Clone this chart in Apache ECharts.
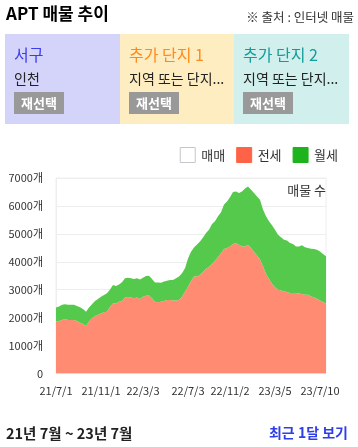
<!DOCTYPE html>
<html>
<head>
<meta charset="utf-8">
<script src="https://cdn.jsdelivr.net/npm/echarts@6/dist/echarts.min.js"></script>
<style>
html,body{margin:0;padding:0;background:#fff;}
#c{width:358px;height:447px;}
</style>
</head>
<body>
<div id="c"></div>
<script>
// Dates of each sample (YY/M/D)
const categories = [
 '21/7/1','21/7/9','21/7/17','21/7/26','21/8/3','21/8/11','21/8/19','21/8/28','21/9/5','21/9/13','21/9/21','21/9/30','21/10/8','21/10/16','21/10/24',
 '21/11/1','21/11/10','21/11/18','21/11/27','21/12/6','21/12/14','21/12/23','22/1/1','22/1/9','22/1/18','22/1/27','22/2/4','22/2/13','22/2/22',
 '22/3/3','22/3/11','22/3/19','22/3/27','22/4/4','22/4/12','22/4/20','22/4/28','22/5/6','22/5/14','22/5/22','22/5/30','22/6/7','22/6/15','22/6/24',
 '22/7/3','22/7/12','22/7/20','22/7/29','22/8/7','22/8/15','22/8/24','22/9/2','22/9/10','22/9/19','22/9/28','22/10/7','22/10/15','22/10/24',
 '22/11/2','22/11/10','22/11/18','22/11/26','22/12/4','22/12/13','22/12/21','22/12/29','23/1/6','23/1/14','23/1/22','23/1/31','23/2/8','23/2/16','23/2/24',
 '23/3/5','23/3/13','23/3/22','23/3/30','23/4/8','23/4/16','23/4/25','23/5/3','23/5/12','23/5/20','23/5/29','23/6/6','23/6/15','23/6/23','23/7/2',
 '23/7/10','23/7/18','23/7/26'
];
const tickLabels = ['21/7/1','21/11/1','22/3/3','22/7/3','22/11/2','23/3/5','23/7/10'];
const yTicks = [0,1000,2000,3000,4000,5000,6000,7000];
// 전세 (jeonse) listing counts
const jeonse = [
 1860,1880,1920,1950,1920,1920,1920,1880,1820,1770,1700,1860,1980,2060,2100,2150,2190,2210,2390,2510,
 2510,2570,2600,2720,2740,2720,2690,2720,2670,2750,2780,2790,2690,2570,2550,2570,2600,2630,2630,2610,
 2610,2630,2750,2930,3110,3310,3470,3470,3540,3630,3750,3810,3920,4040,4170,4310,4460,4490,4550,4640,
 4660,4610,4550,4550,4610,4490,4350,4230,4080,3840,3560,3380,3210,3090,3000,2970,2940,2920,2880,2880,
 2880,2860,2850,2820,2820,2760,2730,2680,2610,2560,2510
];
// 월세 (monthly rent) listing counts
const wolse = [
 500,520,540,530,540,540,540,540,550,540,510,500,500,540,570,600,620,660,620,660,
 620,620,670,690,690,690,690,690,700,680,710,710,690,690,710,680,690,690,720,740,
 800,840,840,840,1010,1050,1040,1150,1190,1240,1280,1340,1430,1410,1460,1460,1590,1670,1760,1860,
 1860,1850,1970,2070,2090,2090,2110,2110,2140,2030,2070,2070,2100,2060,1970,1910,1850,1840,1790,1760,
 1670,1690,1740,1700,1670,1710,1730,1750,1760,1720,1690
];
// 매매 (sale) – no data shown
const maemae = [];

const FONT = '"Noto Sans CJK KR", "Noto Sans", sans-serif';
const chart = echarts.init(document.getElementById('c'), null, {renderer:'canvas'});

function panel(x, w, color, title, titleColor, sub) {
  return [
    {type:'rect', shape:{x:x, y:34, width:w, height:90}, style:{fill:color}, z:1},
    {type:'text', x:x+9, y:55, style:{text:title, fill:titleColor, font:'16px '+FONT, textVerticalAlign:'middle'}, z:2},
    {type:'text', x:x+9, y:79, style:{text:sub, fill:'#222', font:'14px '+FONT, textVerticalAlign:'middle'}, z:2},
    {type:'rect', shape:{x:x+9, y:92, width:50, height:22}, style:{fill:'#999'}, z:2},
    {type:'text', x:x+34, y:103, style:{text:'재선택', fill:'#fff', font:'bold 13px '+FONT, textAlign:'center', textVerticalAlign:'middle'}, z:3}
  ];
}

const option = {
  animation:false,
  textStyle:{fontFamily:FONT},
  graphic:[
    {type:'text', x:6, y:14, style:{text:'APT 매물 추이', fill:'#000', font:'bold 17px '+FONT, textVerticalAlign:'middle'}},
    {type:'text', x:354, y:17, style:{text:'※ 출처 : 인터넷 매물', fill:'#333', font:'12.5px '+FONT, textAlign:'right', textVerticalAlign:'middle'}},
    ...panel(5, 115, '#d4d4fa', '서구', '#3b3bf0', '인천'),
    ...panel(120, 114, '#ffedc2', '추가 단지 1', '#ff8a1c', '지역 또는 단지...'),
    ...panel(234, 115, '#d0efed', '추가 단지 2', '#159c9a', '지역 또는 단지...'),
    {type:'text', x:326, y:190, style:{text:'매물 수', fill:'#333', font:'13px '+FONT, textAlign:'right', textVerticalAlign:'middle'}, z:10},
    {type:'text', x:6, y:433, style:{text:'21년 7월 ~ 23년 7월', fill:'#222', font:'bold 14.5px '+FONT, textVerticalAlign:'middle'}},
    {type:'text', x:348, y:433, style:{text:'최근 1달 보기', fill:'#2f3fe8', font:'bold 14px '+FONT, textAlign:'right', textVerticalAlign:'middle'}}
  ],
  legend:{
    right:15, top:142, icon:'rect', itemWidth:15, itemHeight:15, itemGap:11,
    textStyle:{fontSize:13, color:'#333', fontFamily:FONT, padding:[0,0,0,1]},
    data:[
      {name:'매매', itemStyle:{color:'#fff', borderColor:'#c4c6cc', borderWidth:1}},
      {name:'전세', itemStyle:{color:'#ff6347', borderColor:'#ff6347', borderWidth:1}},
      {name:'월세', itemStyle:{color:'#1db31d', borderColor:'#1db31d', borderWidth:1}}
    ]
  },
  grid:{left:56, right:32, top:178, bottom:73.5, show:true, borderColor:'#eee', borderWidth:1},
  xAxis:{
    type:'category', boundaryGap:false, data:categories,
    axisLine:{show:false}, axisTick:{show:false},
    axisLabel:{
      fontSize:11, color:'#333', margin:12, fontFamily:FONT,
      interval:function(i, v){ return tickLabels.indexOf(v) >= 0; }
    }
  },
  yAxis:{
    type:'value', min:yTicks[0], max:yTicks[yTicks.length-1], interval:1000,
    axisLine:{show:true, lineStyle:{color:'#eee'}}, axisTick:{show:false},
    splitLine:{lineStyle:{color:'#eee'}},
    axisLabel:{fontSize:11, color:'#333', margin:13, fontFamily:FONT,
      formatter:function(v){ return v === 0 ? '0' : v + '개'; }}
  },
  series:[
    {name:'매매', type:'line', data:maemae, showSymbol:false, itemStyle:{color:'#fff'}},
    {name:'전세', type:'line', stack:'a', data:jeonse, showSymbol:false, symbol:'none',
     itemStyle:{color:'#ff6347'}, lineStyle:{width:0}, areaStyle:{color:'#ff8b73', opacity:1}},
    {name:'월세', type:'line', stack:'a', data:wolse, showSymbol:false, symbol:'none',
     itemStyle:{color:'#1db31d'}, lineStyle:{width:0}, areaStyle:{color:'#55c94c', opacity:1}}
  ]
};
chart.setOption(option);
</script>
</body>
</html>
